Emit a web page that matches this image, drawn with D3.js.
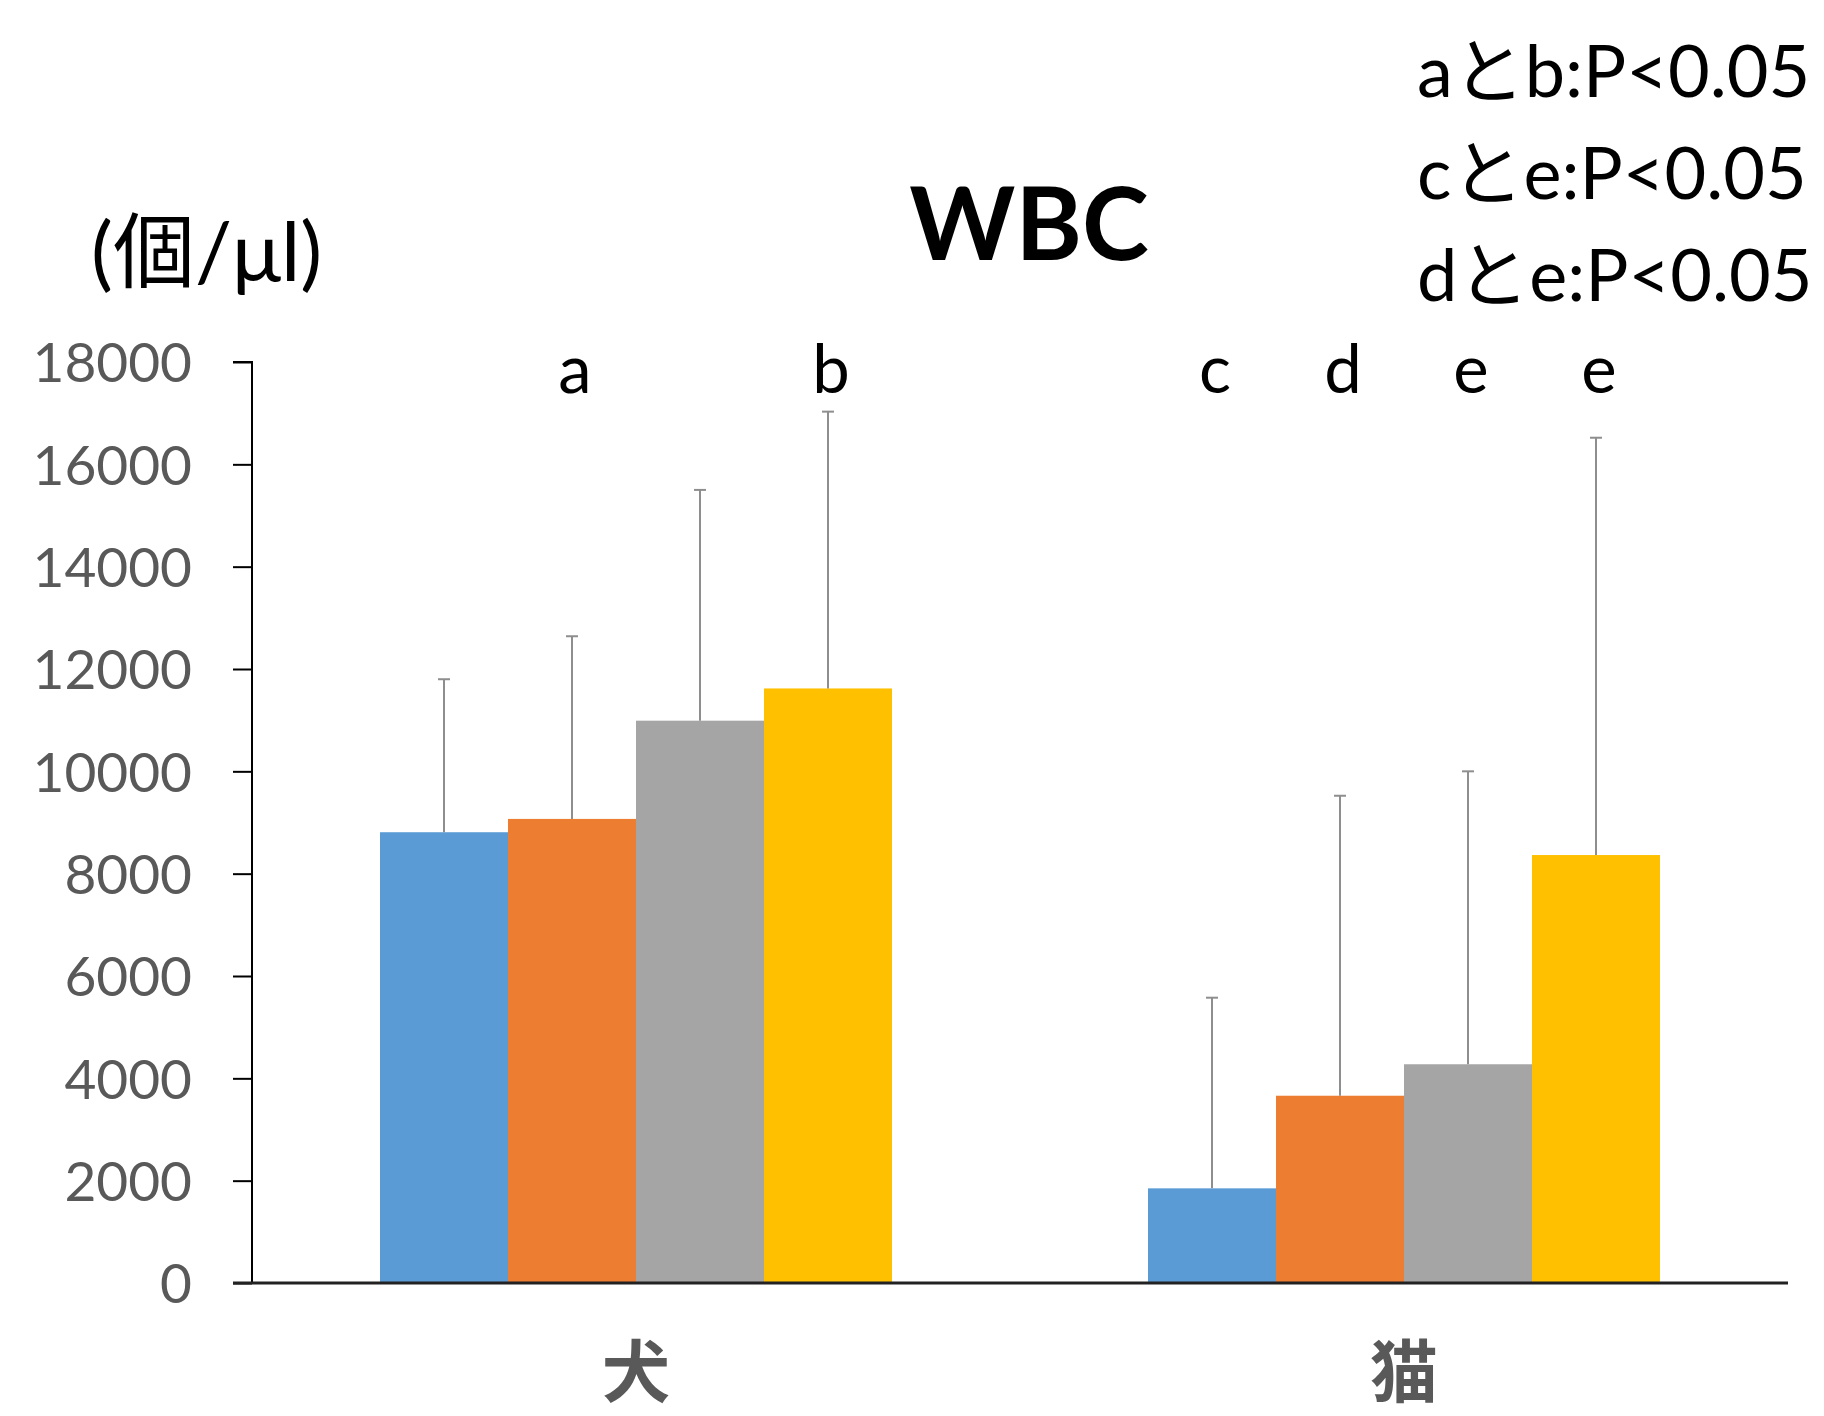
<!DOCTYPE html>
<html>
<head>
<meta charset="utf-8">
<script src="https://cdn.jsdelivr.net/npm/d3@7"></script>
<style>
  html, body { margin: 0; padding: 0; background: #fff; }
  svg { display: block; }
  text { font-family: Lato, "Noto Sans CJK JP", sans-serif; }
</style>
</head>
<body>
<svg id="chart" width="1824" height="1416"></svg>
<script>
// WBC counts (cells/µl) for dogs and cats, four groups each, with upper SD bars
const categories = ["犬", "猫"];
const groups = ["g1", "g2", "g3", "g4"];
const means = [
  [8810, 9070, 10990, 11620],  // 犬
  [1850, 3660, 4275, 8364]     // 猫
];
const upper = [
  [11800, 12640, 15500, 17030],
  [5576, 9523, 10000, 16520]
];
const sigLetters = [
  ["", "a", "", "b"],
  ["c", "d", "e", "e"]
];
const notes = ["aとb:P<0.05", "cとe:P<0.05", "dとe:P<0.05"];
const yTicks = [0, 2000, 4000, 6000, 8000, 10000, 12000, 14000, 16000, 18000];
const colors = ["#5B9BD5", "#ED7D31", "#A5A5A5", "#FFC000"];

const svg = d3.select("#chart");
const plotL = 252, plotR = 1788, plotT = 362, plotB = 1283;

const x0 = d3.scaleBand().domain(categories).range([plotL, plotR])
  .paddingInner(1 / 3).paddingOuter(1 / 6);
const x1 = d3.scaleBand().domain(groups).range([0, x0.bandwidth()]).padding(0);
const y = d3.scaleLinear().domain([0, 18000]).range([plotB, plotT]);

const rows = [];
categories.forEach((c, i) => groups.forEach((g, j) => rows.push({
  cat: c, grp: g, j, mean: means[i][j], hi: upper[i][j], letter: sigLetters[i][j]
})));

// bars
svg.append("g").selectAll("rect").data(rows).join("rect")
  .attr("x", d => x0(d.cat) + x1(d.grp))
  .attr("y", d => y(d.mean))
  .attr("width", x1.bandwidth())
  .attr("height", d => y(0) - y(d.mean))
  .attr("fill", d => colors[d.j]);

// error bars (upper only)
const eb = svg.append("g").attr("stroke", "#8E8E8E").attr("stroke-width", 2);
const cx = d => x0(d.cat) + x1(d.grp) + x1.bandwidth() / 2;
eb.selectAll("line.v").data(rows).join("line").attr("class", "v")
  .attr("x1", cx).attr("x2", cx)
  .attr("y1", d => y(d.mean)).attr("y2", d => y(d.hi));
eb.selectAll("line.c").data(rows).join("line").attr("class", "c")
  .attr("x1", d => cx(d) - 6).attr("x2", d => cx(d) + 6)
  .attr("y1", d => y(d.hi)).attr("y2", d => y(d.hi));

// y axis
const yAxis = svg.append("g").attr("transform", `translate(${plotL},0)`)
  .call(d3.axisLeft(y).tickValues(yTicks).tickSize(19).tickPadding(41)
    .tickFormat(d3.format("d")));
yAxis.select(".domain").attr("stroke", "#000").attr("stroke-width", 2)
  .attr("d", `M-19,${plotT}H0V${plotB}`);
yAxis.selectAll(".tick line").attr("stroke", "#000").attr("stroke-width", 2);
yAxis.selectAll(".tick text").attr("fill", "#595959")
  .style("font-size", "55px").style("font-family", "Lato, sans-serif")
  .attr("dy", "0.36em");

// x axis baseline
const xAxis = svg.append("g").attr("transform", `translate(0,${plotB})`)
  .call(d3.axisBottom(x0).tickSize(0).tickPadding(66));
xAxis.select(".domain").attr("stroke", "#222").attr("stroke-width", 3)
  .attr("d", `M${plotL - 19},0H${plotR}`);
xAxis.selectAll(".tick text").attr("fill", "#595959")
  .style("font-size", "68px").style("font-weight", "bold")
  .style("font-family", "'Noto Sans CJK JP', sans-serif")
  .attr("dy", "0.71em");

// significance letters
svg.append("g").selectAll("text").data(rows.filter(d => d.letter)).join("text")
  .attr("x", d => cx(d) + 3).attr("y", 393)
  .attr("text-anchor", "middle")
  .style("font-size", "67px").attr("fill", "#000")
  .text(d => d.letter);

// title
svg.append("text").attr("x", 1029).attr("y", 260).attr("text-anchor", "middle")
  .style("font-size", "101px").style("font-weight", "bold").attr("fill", "#000")
  .text("WBC");

// unit label
svg.append("text").attr("x", 91).attr("y", 281)
  .style("font-size", "82px").attr("fill", "#000")
  .text("(個/μl)");

// significance notes
svg.append("g").selectAll("text").data(notes).join("text")
  .attr("x", 1417).attr("y", (d, i) => 97 + i * 102)
  .style("font-size", "72px").attr("fill", "#000")
  .text(d => d);
</script>
</body>
</html>
